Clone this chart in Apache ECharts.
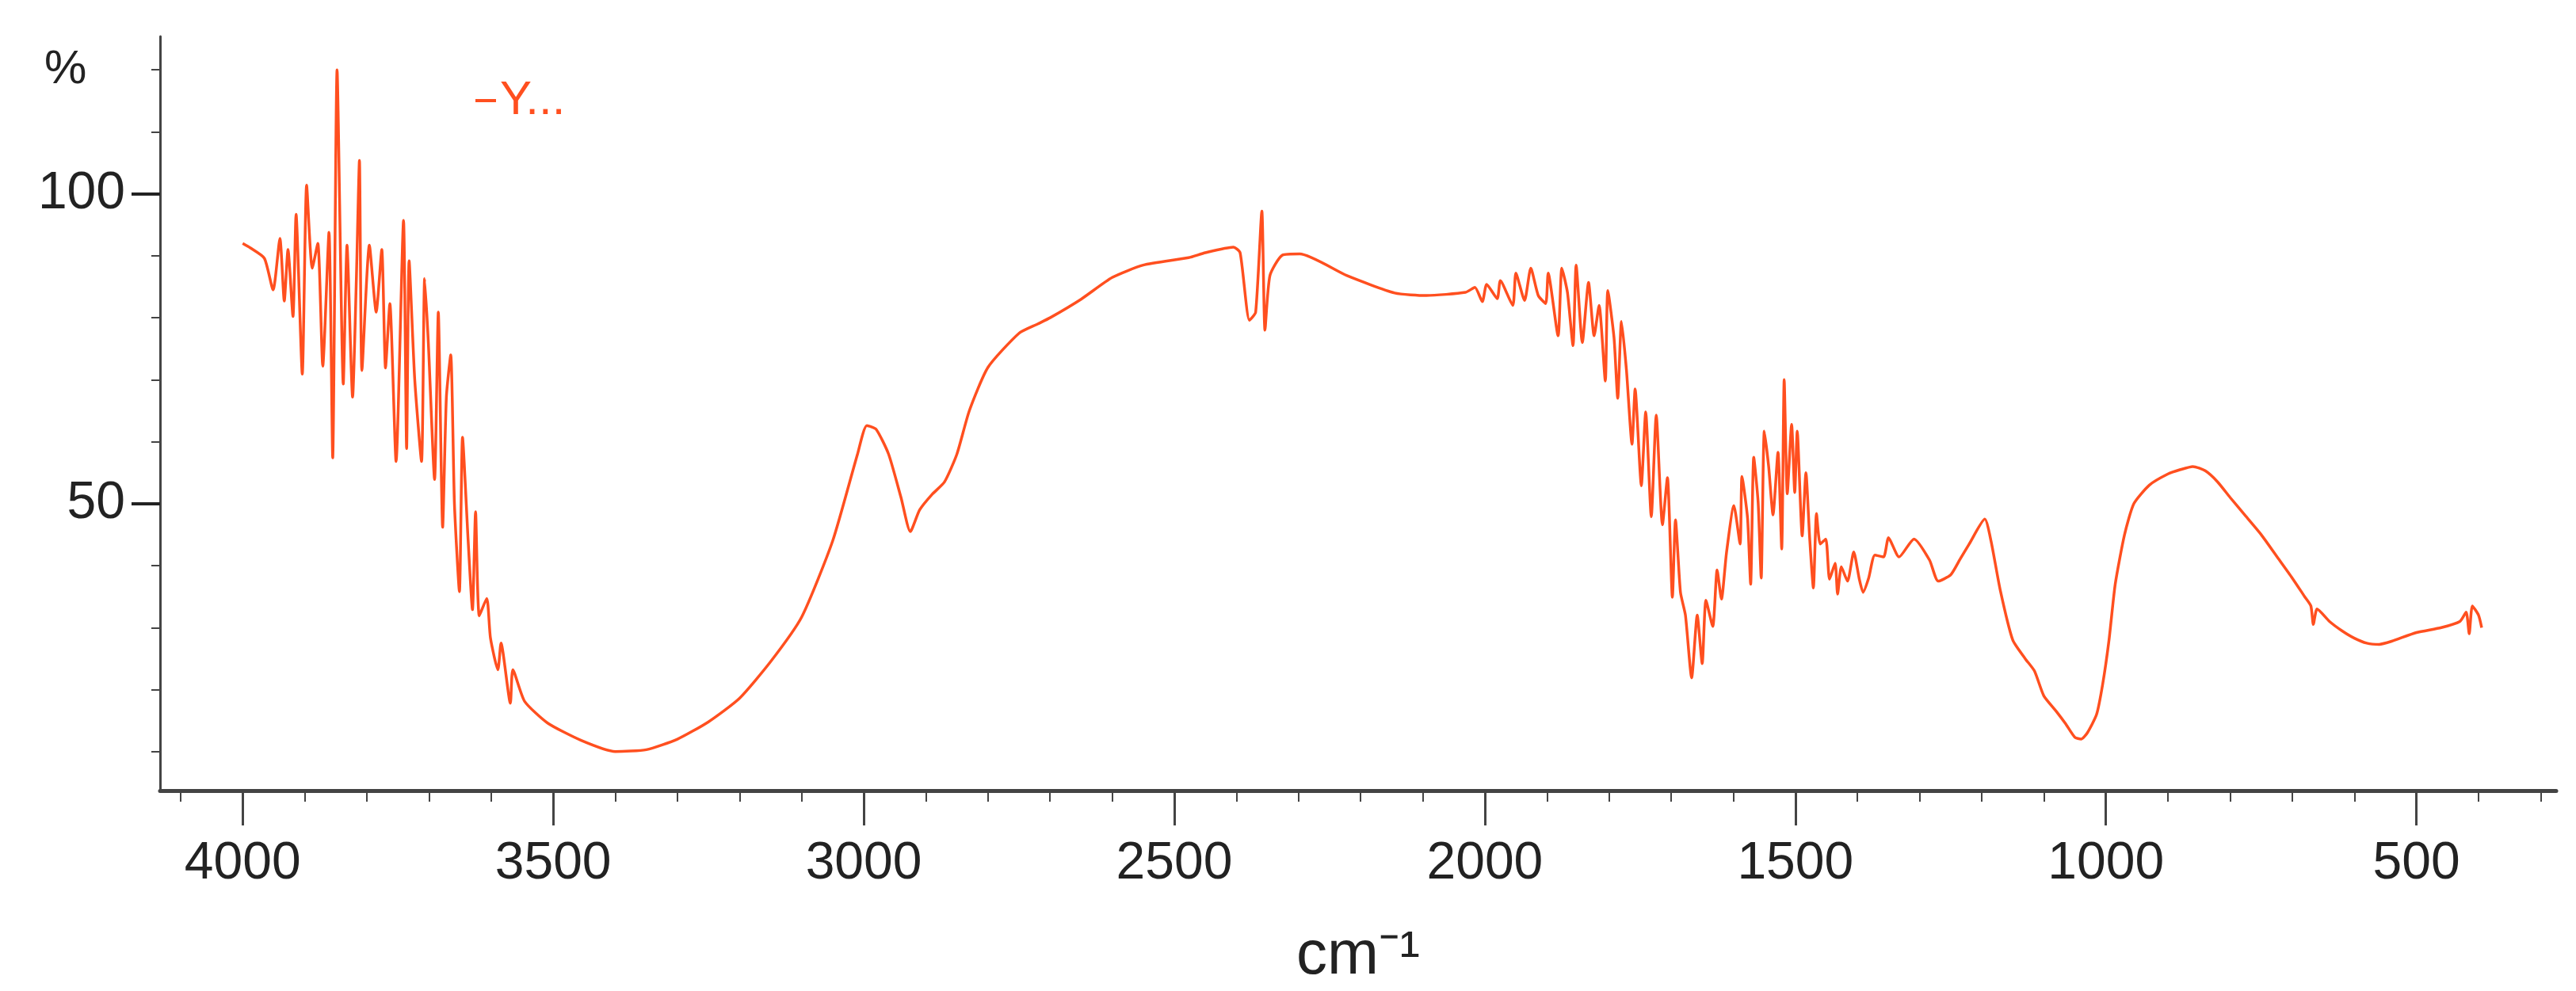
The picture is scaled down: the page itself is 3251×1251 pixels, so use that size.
<!DOCTYPE html>
<html>
<head>
<meta charset="utf-8">
<script src="https://cdn.jsdelivr.net/npm/echarts@6/dist/echarts.min.js"></script>
<style>
  html, body { margin: 0; padding: 0; background: #fff; }
  #chart { width: 3251px; height: 1251px; }
</style>
</head>
<body>
<div id="chart"></div>
<script>
// wavenumber (cm-1)
var wavenumbers = [
  4000, 3988, 3965, 3951, 3940, 3933, 3927, 3919, 3914, 3904, 3897, 3888, 3879, 3871, 3861, 3855, 3848, 3838,
  3832, 3823, 3817, 3812, 3808, 3796, 3785, 3776, 3770, 3763, 3753, 3741, 3736, 3732, 3723, 3712, 3707, 3701,
  3691, 3685, 3678, 3672, 3665, 3659, 3651, 3646, 3637, 3630, 3625, 3619, 3607, 3601, 3589, 3584, 3569, 3565,
  3546, 3509, 3455, 3400, 3350, 3300, 3250, 3200, 3150, 3100, 3050, 3010, 2995, 2980, 2960, 2940, 2925, 2910,
  2890, 2870, 2850, 2830, 2800, 2750, 2720, 2700, 2650, 2600, 2550, 2477, 2450, 2405, 2394, 2379, 2369, 2359,
  2354, 2346, 2326, 2298, 2222,
  2145, 2094, 2031, 2016, 2004, 1997, 1980, 1975, 1955, 1950, 1936, 1926, 1914, 1902, 1898, 1882, 1876, 1867,
  1858, 1853, 1843, 1833, 1824, 1816, 1806, 1802, 1792, 1786, 1780, 1772, 1763, 1758, 1748, 1741, 1732, 1724,
  1714, 1706, 1698, 1693, 1685, 1677, 1667, 1658, 1650, 1644, 1633, 1626, 1619, 1611, 1599, 1589, 1586, 1577,
  1572, 1567, 1560, 1555, 1550, 1543, 1536, 1528, 1522, 1518, 1513, 1506, 1501, 1497, 1489, 1483, 1477, 1471,
  1466, 1460, 1451, 1445, 1436, 1432, 1426, 1416, 1406, 1397, 1391, 1382, 1372, 1358, 1350, 1333, 1309, 1284,
  1270, 1250, 1235, 1220, 1195, 1185, 1170, 1150, 1130, 1115, 1100, 1080, 1065, 1050, 1040, 1030, 1015, 1005,
  995, 985, 970, 955, 930, 900, 880, 860, 840, 820, 800, 775, 750, 725, 700, 680, 670, 666, 660, 640, 620,
  600, 580, 560, 540, 500, 460, 430, 420, 415, 410, 400, 395
];
// transmittance (%)
var transmittance = [
  92, 91.3, 89.6, 84.5, 92.8, 82.7, 91, 80.2, 96.7, 70.9, 101.4, 88, 92, 72.2, 93.8, 57.4, 120, 69.3,
  91.7, 67.2, 86, 105.4, 71.5, 91.7, 80.9, 91, 71.9, 82.3, 56.8, 95.7, 58.9, 89.2, 70.1, 56.8, 86.3, 75.9,
  53.9, 80.9, 46.2, 67.2, 74, 49.9, 35.8, 60.7, 44.1, 32.9, 48.7, 31.9, 34.7, 28.3, 23.2, 27.5, 17.8, 23.2,
  18.1, 14.6, 11.8, 10, 10.3, 12, 14.8, 18.6, 24.5, 31.7, 44, 58, 62.6, 62, 58, 51, 45.5, 49,
  51.5, 53.5, 58, 65, 72, 77.5, 79, 80, 83, 86.5, 88.5, 89.7, 90.5, 91.4, 90.5, 79.6, 80.9, 97.2,
  78, 86.8, 90.1, 90.3, 86.8,
  84, 83.6, 84.1, 84.9, 82.6, 85.4, 83.1, 86, 82, 87.2, 82.8, 88, 83.6, 82.3, 87.2, 77.1, 88, 84.1,
  75.5, 88.5, 76, 85.7, 77.1, 82, 69.8, 84.4, 76.8, 67, 79.4, 71.6, 59.6, 68.5, 52.9, 64.8, 47.9, 64.3,
  46.6, 54.2, 34.9, 47.4, 35.7, 32, 21.9, 32, 24.2, 34.4, 30.2, 39.3, 34.6, 42, 49.7, 43.5, 54.4, 47.7,
  37, 57.5, 50.3, 38, 61.7, 56, 48.2, 58.3, 42.7, 70, 51.6, 62.8, 51.8, 61.7, 44.8, 55, 44.5, 36.4,
  48.4, 43.5, 44.3, 37.8, 40.4, 35.4, 39.8, 37.5, 42.2, 37.8, 35.7, 38, 41.7, 41.4, 44.5, 41.4, 44.3, 40.9,
  37.5, 38.5, 41, 43.5, 47.5, 44, 36, 28, 25, 23, 19, 16.5, 14.5, 12.3, 12, 13, 16, 21,
  28, 37, 45, 50, 53, 54.8, 55.5, 56, 55.3, 53.5, 51, 48, 45, 41.5, 38, 35, 33.5, 30.5, 33, 31, 29.5,
  28.3, 27.5, 27.3, 27.8, 29.2, 30, 31, 32.5, 29, 33.5, 32, 30
];
var xMajorTicks = [500, 1000, 1500, 2000, 2500, 3000, 3500, 4000];
var xMinorTicks = [];
for (var t = 300; t <= 4100; t += 100) xMinorTicks.push(t);
var yMajorTicks = [50, 100];
var yMinorTicks = [10, 20, 30, 40, 50, 60, 70, 80, 90, 100, 110, 120];

var points = wavenumbers.map(function (w, i) { return [w, transmittance[i]]; });

var chart = echarts.init(document.getElementById('chart'));
var axisColor = '#444';
var lineColor = '#ff4f1f';
var labelFont = 'Liberation Sans, Arial, sans-serif';

var option = {
  backgroundColor: '#fff',
  animation: false,
  grid: { left: 202, right: 25, top: 46, bottom: 236 },
  legend: {
    data: ['Y...'],
    left: 595,
    top: 92,
    icon: 'rect',
    itemWidth: 26,
    itemHeight: 4,
    itemGap: 14,
    textStyle: { color: lineColor, fontSize: 60, fontFamily: labelFont }
  },
  graphic: [{
    type: 'text',
    left: 56,
    top: 58,
    style: { text: '%', fontSize: 60, fill: '#222', fontFamily: labelFont }
  }],
  xAxis: [{
    type: 'value',
    inverse: true,
    min: 275,
    max: 4133,
    name: 'cm⁻¹',
    nameLocation: 'middle',
    nameGap: 170,
    nameTextStyle: { fontSize: 78, color: '#222', fontFamily: labelFont },
    axisLine: { lineStyle: { color: axisColor, width: 5 } },
    axisTick: { customValues: xMinorTicks, length: 14, lineStyle: { color: axisColor, width: 2 } },
    axisLabel: { show: false },
    splitLine: { show: false }
  }, {
    type: 'value',
    inverse: true,
    min: 275,
    max: 4133,
    position: 'bottom',
    axisLine: { show: false },
    axisTick: { customValues: xMajorTicks, length: 44, lineStyle: { color: axisColor, width: 3 } },
    axisLabel: {
      customValues: xMajorTicks, fontSize: 66, color: '#222', margin: 60, fontFamily: labelFont,
      formatter: function (v) { return String(v); }
    },
    splitLine: { show: false }
  }],
  yAxis: [{
    type: 'value',
    min: 3.7,
    max: 125.4,
    axisLine: { show: true, lineStyle: { color: axisColor, width: 3 } },
    axisTick: { show: true, customValues: yMinorTicks, length: 11, lineStyle: { color: axisColor, width: 2 } },
    axisLabel: { show: false },
    splitLine: { show: false }
  }, {
    type: 'value',
    min: 3.7,
    max: 125.4,
    position: 'left',
    axisLine: { show: false },
    axisTick: { show: true, customValues: yMajorTicks, length: 36, lineStyle: { color: '#222', width: 4 } },
    axisLabel: {
      customValues: yMajorTicks, fontSize: 66, color: '#222', margin: 44, fontFamily: labelFont,
      formatter: function (v) { return String(v); }
    },
    splitLine: { show: false }
  }],
  series: [{
    name: 'Y...',
    type: 'line',
    data: points,
    showSymbol: false,
    symbol: 'none',
    smooth: 0.2,
    lineStyle: { color: lineColor, width: 3.5 },
    itemStyle: { color: lineColor }
  }]
};

chart.setOption(option);
</script>
</body>
</html>
